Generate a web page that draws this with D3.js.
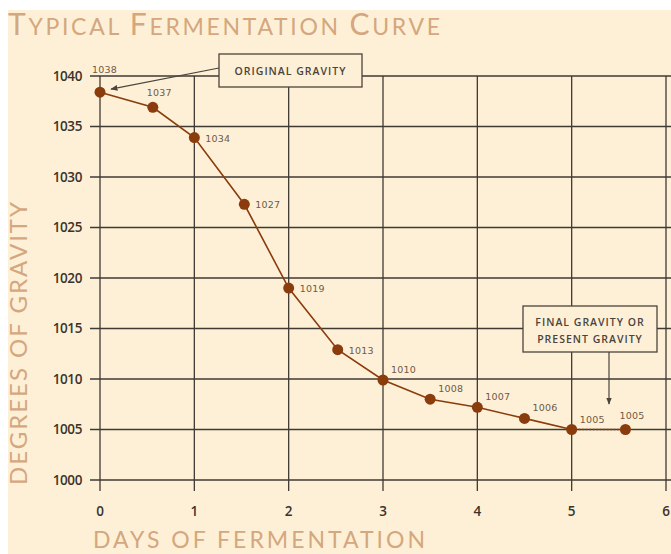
<!DOCTYPE html>
<html lang="en">
<head>
    <meta charset="UTF-8">
    <title>Typical Fermentation Curve</title>
    <script src="https://cdn.jsdelivr.net/npm/d3@7"></script>
    <style>
        body { margin: 0; background: #fff; }
        svg { display: block; }
    </style>
</head>
<body>
    <script>
        // data
        let days = [0, 0.56, 1, 1.53, 2, 2.52, 3, 3.5, 4, 4.5, 5, 5.57];
        let gravity = [1038.4, 1036.9, 1033.9, 1027.3, 1019, 1012.9, 1009.9, 1008, 1007.2, 1006.1, 1005, 1005];
        let labels = ['1038', '1037', '1034', '1027', '1019', '1013', '1010', '1008', '1007', '1006', '1005', '1005'];
        let xTicks = [0, 1, 2, 3, 4, 5, 6];
        let yTicks = [1000, 1005, 1010, 1015, 1020, 1025, 1030, 1035, 1040];
        // where each value label sits relative to its point
        let labelSide = ['topleft', 'top', 'right', 'right', 'right', 'right', 'topright', 'topright', 'topright', 'topright', 'topright', 'top'];

        let W = 671, H = 554;
        let gridColor = '#3f3a33', lineColor = '#8a3c0c', titleColor = '#d4a77e';

        let svg = d3.select('body').append('svg')
            .attr('width', W)
            .attr('height', H);

        svg.append('rect')
            .attr('x', 8).attr('y', 10)
            .attr('width', W - 8).attr('height', H - 10)
            .attr('fill', '#fef0d6');

        let x = d3.scaleLinear().domain([0, 6]).range([100, 666]);
        let y = d3.scaleLinear().domain([1000, 1040]).range([480, 76]);

        // grid
        svg.append('g').selectAll('line').data(yTicks).enter().append('line')
            .attr('x1', 90).attr('x2', W)
            .attr('y1', d => y(d)).attr('y2', d => y(d))
            .attr('stroke', gridColor).attr('stroke-width', 1.3);
        svg.append('g').selectAll('line').data(xTicks).enter().append('line')
            .attr('x1', d => x(d)).attr('x2', d => x(d))
            .attr('y1', y(1040)).attr('y2', 491)
            .attr('stroke', gridColor).attr('stroke-width', 1.3);

        // tick labels
        svg.append('g').selectAll('text').data(yTicks).enter().append('text')
            .attr('x', 82).attr('y', d => y(d) + 4.5)
            .attr('text-anchor', 'end')
            .attr('font-family', 'Open Sans, sans-serif')
            .attr('font-weight', 600)
            .attr('font-size', 13.5)
            .attr('letter-spacing', -0.4)
            .attr('fill', '#3b332b')
            .text(d => d);
        svg.append('g').selectAll('text').data(xTicks).enter().append('text')
            .attr('x', d => x(d)).attr('y', 516)
            .attr('text-anchor', 'middle')
            .attr('font-family', 'Open Sans, sans-serif')
            .attr('font-weight', 600)
            .attr('font-size', 13.5)
            .attr('fill', '#3b332b')
            .text(d => d);

        // curve
        let pts = days.map((d, i) => [d, gravity[i]]);
        let line = d3.line().x(d => x(d[0])).y(d => y(d[1]));
        svg.append('path')
            .attr('d', line(pts.slice(0, 11)))
            .attr('fill', 'none')
            .attr('stroke', lineColor)
            .attr('stroke-width', 1.6);
        svg.append('path')
            .attr('d', line(pts.slice(10)))
            .attr('fill', 'none')
            .attr('stroke', lineColor)
            .attr('stroke-width', 1.6)
            .attr('stroke-dasharray', '2,1.5');

        svg.append('g').selectAll('circle').data(pts).enter().append('circle')
            .attr('cx', d => x(d[0])).attr('cy', d => y(d[1]))
            .attr('r', 5.5)
            .attr('fill', '#8a3c0c');

        let off = {
            topleft: [-8, -19, 'start'],
            top: [-6, -11, 'start'],
            right: [11, 4, 'start'],
            topright: [8, -7, 'start']
        };
        svg.append('g').selectAll('text').data(pts).enter().append('text')
            .attr('x', (d, i) => x(d[0]) + off[labelSide[i]][0])
            .attr('y', (d, i) => y(d[1]) + off[labelSide[i]][1])
            .attr('text-anchor', (d, i) => off[labelSide[i]][2])
            .attr('font-family', 'DejaVu Sans, sans-serif')
            .attr('font-size', 9.5)
            .attr('letter-spacing', 0.2)
            .attr('fill', '#6e5a48')
            .text((d, i) => labels[i]);

        // annotations
        let defs = svg.append('defs');
        defs.append('marker')
            .attr('id', 'arr')
            .attr('viewBox', '0 0 10 10')
            .attr('refX', 9).attr('refY', 5)
            .attr('markerWidth', 6).attr('markerHeight', 6)
            .attr('orient', 'auto')
            .append('path').attr('d', 'M0,1 L10,5 L0,9 Z').attr('fill', '#4a443c');

        svg.append('line')
            .attr('x1', 219).attr('y1', 68)
            .attr('x2', x(0) + 11).attr('y2', y(gravity[0]) - 3)
            .attr('stroke', '#4a443c').attr('stroke-width', 1.2)
            .attr('marker-end', 'url(#arr)');
        svg.append('rect')
            .attr('x', 219).attr('y', 54).attr('width', 143).attr('height', 33)
            .attr('fill', '#fef0d6').attr('stroke', '#4a443c').attr('stroke-width', 1.3);

        let boxText = (tx, ty, s) => svg.append('text')
            .attr('x', tx).attr('y', ty)
            .attr('text-anchor', 'middle')
            .attr('font-family', 'Open Sans, sans-serif')
            .attr('font-weight', 600)
            .attr('font-size', 10.5)
            .attr('letter-spacing', 1)
            .attr('fill', '#4a443c')
            .text(s);
        boxText(290.5, 75, 'ORIGINAL GRAVITY');

        svg.append('line')
            .attr('x1', 609).attr('y1', 352)
            .attr('x2', 609).attr('y2', 404)
            .attr('stroke', '#4a443c').attr('stroke-width', 1.2)
            .attr('marker-end', 'url(#arr)');
        svg.append('rect')
            .attr('x', 523).attr('y', 306).attr('width', 134).attr('height', 46)
            .attr('fill', '#fef0d6').attr('stroke', '#4a443c').attr('stroke-width', 1.3);
        boxText(590, 326, 'FINAL GRAVITY OR');
        boxText(590, 343, 'PRESENT GRAVITY');

        // titles
        let title = svg.append('text')
            .attr('x', 8).attr('y', 35)
            .attr('font-family', 'Lato, sans-serif')
            .attr('fill', titleColor)
            .attr('textLength', 432)
            .attr('lengthAdjust', 'spacing');
        [['T', 30], ['YPICAL ', 23], ['F', 30], ['ERMENTATION ', 23], ['C', 30], ['URVE', 23]].forEach(p => {
            title.append('tspan').attr('font-size', p[1]).text(p[0]);
        });

        svg.append('text')
            .attr('x', 93).attr('y', 548)
            .attr('font-family', 'Lato, sans-serif')
            .attr('font-size', 23)
            .attr('fill', titleColor)
            .attr('textLength', 332)
            .attr('lengthAdjust', 'spacing')
            .text('DAYS OF FERMENTATION');

        svg.append('text')
            .attr('transform', 'translate(27,485) rotate(-90)')
            .attr('font-family', 'Lato, sans-serif')
            .attr('font-size', 24)
            .attr('fill', titleColor)
            .attr('textLength', 283)
            .attr('lengthAdjust', 'spacing')
            .text('DEGREES OF GRAVITY');
    </script>
</body>
</html>
